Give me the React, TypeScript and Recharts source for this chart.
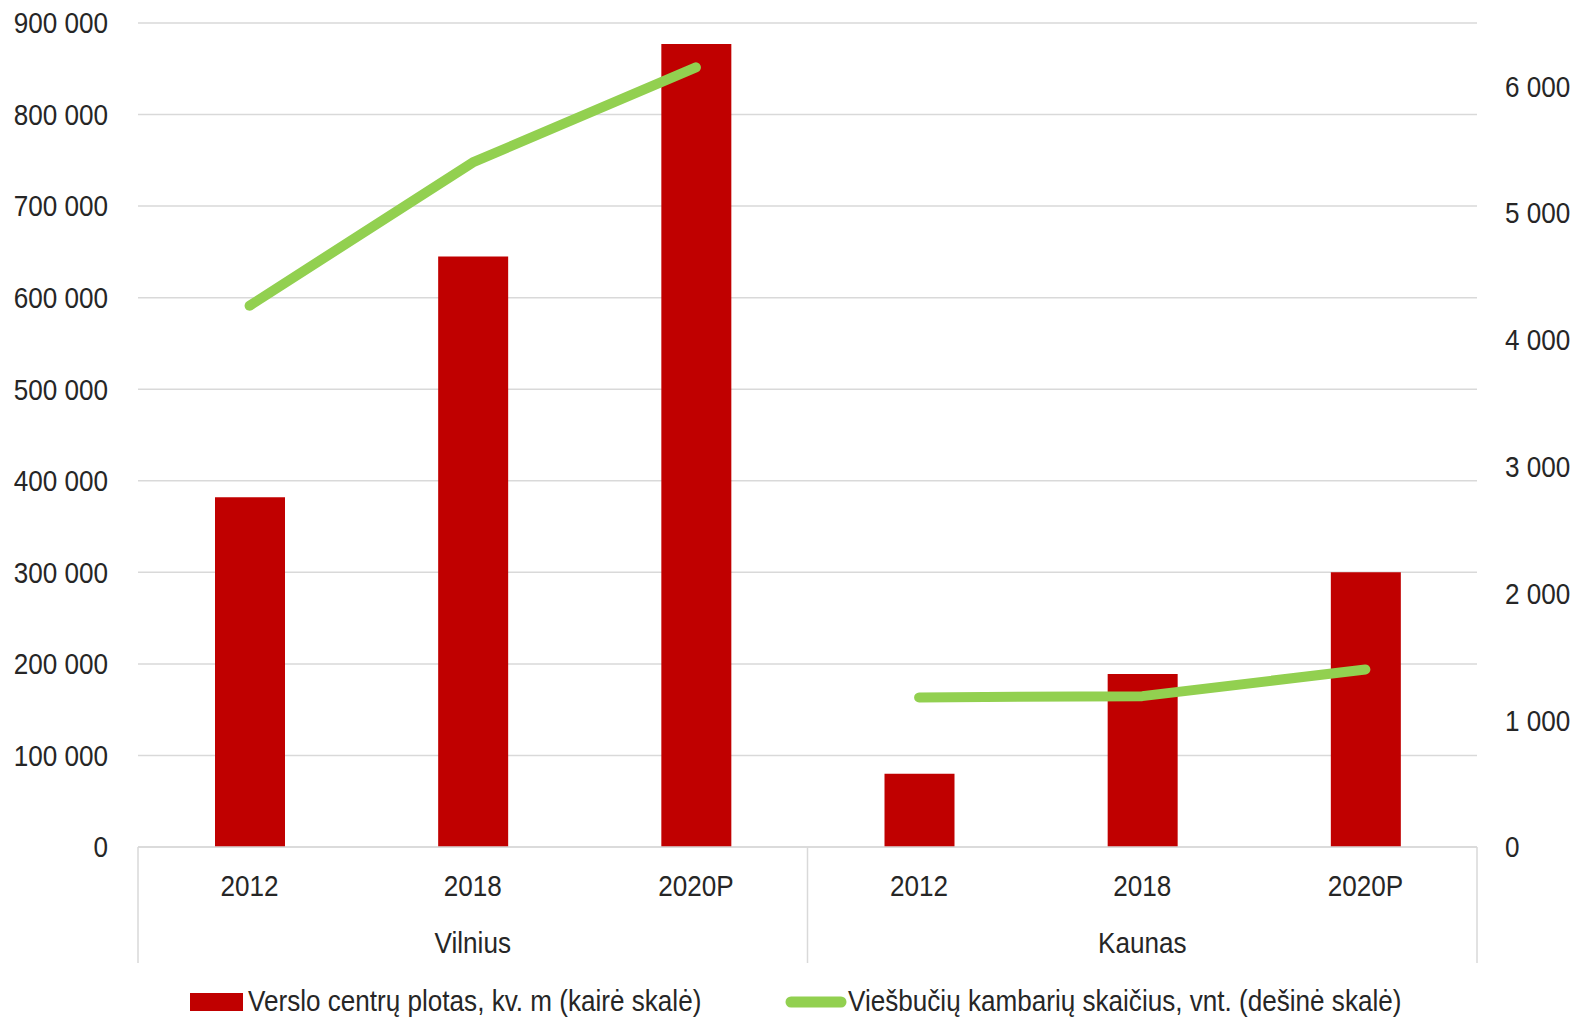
import React from "react";
import {
  ComposedChart,
  Bar,
  Line,
  XAxis,
  YAxis,
  CartesianGrid,
  Legend,
} from "recharts";

// categories (two-level axis: year under city)
const cities = ["Vilnius", "Vilnius", "Vilnius", "Kaunas", "Kaunas", "Kaunas"];
const years = ["2012", "2018", "2020P", "2012", "2018", "2020P"];

// business centre area, sq m (left scale)
const officeArea = [382000, 645000, 877000, 80000, 189000, 300000];
// hotel rooms, units (right scale) - split per city so the line breaks between them
const roomsVilnius = [4270, 5400, 6150, null, null, null];
const roomsKaunas = [null, null, null, 1180, 1190, 1400];

const leftTicks = [0, 100000, 200000, 300000, 400000, 500000, 600000, 700000, 800000, 900000];
const rightTicks = [0, 1000, 2000, 3000, 4000, 5000, 6000];

const barLabel = "Verslo centrų plotas, kv. m (kairė skalė)";
const lineLabel = "Viešbučių kambarių skaičius, vnt. (dešinė skalė)";

const data = years.map((y, i) => ({
  id: `${cities[i]} ${y}`,
  area: officeArea[i],
  roomsV: roomsVilnius[i],
  roomsK: roomsKaunas[i],
}));

const W = 1581;
const H = 1021;
const LEFT_W = 138;
const RIGHT_W = 104;
const PLOT_W = W - LEFT_W - RIGHT_W;
const HALF_BAND = PLOT_W / years.length / 2;

// no narrow font available: squeeze Liberation Sans horizontally instead
const FONT = '"Liberation Sans", Arial, sans-serif';
const FS = 29;
const SQUEEZE = 0.9;
const TEXT = "#262626";
const GRID = "#d9d9d9";
const RED = "#C00000";
const GREEN = "#92D050";

const fmt = (v: number) => String(v).replace(/\B(?=(\d{3})+(?!\d))/g, " ");

const NarrowText = ({ x, y, anchor = "middle", dy = "0.355em", children }: any) => (
  <text
    transform={`translate(${x},${y}) scale(${SQUEEZE},1)`}
    x={0}
    y={0}
    dy={dy}
    textAnchor={anchor}
    fill={TEXT}
    fontSize={FS}
    fontFamily={FONT}
  >
    {children}
  </text>
);

const CategoryTick = (props: any) => {
  const { x, y, index } = props;
  const showCity = index === 1 || index === 4;
  const sepLeft = index === 0 || index === 3;
  const sepRight = index === years.length - 1;
  return (
    <g>
      <NarrowText x={x} y={y + 39}>{years[index]}</NarrowText>
      {showCity && <NarrowText x={x} y={y + 96}>{cities[index]}</NarrowText>}
      {sepLeft && <line x1={x - HALF_BAND} x2={x - HALF_BAND} y1={y} y2={y + 116} stroke={GRID} strokeWidth={1.5} />}
      {sepRight && <line x1={x + HALF_BAND} x2={x + HALF_BAND} y1={y} y2={y + 116} stroke={GRID} strokeWidth={1.5} />}
    </g>
  );
};

const LeftTick = (props: any) => (
  <NarrowText x={props.x} y={props.y} anchor="end">{fmt(props.payload.value)}</NarrowText>
);

const RightTick = (props: any) => (
  <NarrowText x={props.x} y={props.y} anchor="start">{fmt(props.payload.value)}</NarrowText>
);

const LegendContent = () => (
  <svg width={W} height={46} style={{ display: "block" }}>
    <rect x={190} y={16} width={53} height={18} fill={RED} />
    <NarrowText x={248} y={24} anchor="start">{barLabel}</NarrowText>
    <line x1={791} x2={841} y1={25} y2={25} stroke={GREEN} strokeWidth={11} strokeLinecap="round" />
    <NarrowText x={848} y={24} anchor="start">{lineLabel}</NarrowText>
  </svg>
);

export default function App() {
  return (
    <div style={{ position: "absolute", left: 0, top: 0, width: W, height: H, background: "#fff" }}>
      <ComposedChart width={W} height={H} data={data} margin={{ top: 23, right: 0, bottom: 58, left: 0 }}>
        <CartesianGrid yAxisId="left" vertical={false} stroke={GRID} strokeWidth={1.5} />
        <XAxis
          dataKey="id"
          height={116}
          axisLine={{ stroke: GRID, strokeWidth: 1.5 }}
          tickLine={false}
          tickSize={0}
          tickMargin={0}
          interval={0}
          tick={<CategoryTick />}
        />
        <YAxis
          yAxisId="left"
          width={LEFT_W}
          domain={[0, 900000]}
          ticks={leftTicks}
          axisLine={false}
          tickLine={false}
          tickSize={0}
          tickMargin={30}
          tick={<LeftTick />}
        />
        <YAxis
          yAxisId="right"
          orientation="right"
          width={RIGHT_W}
          domain={[0, 6500]}
          ticks={rightTicks}
          axisLine={false}
          tickLine={false}
          tickSize={0}
          tickMargin={28}
          tick={<RightTick />}
        />
        <Bar yAxisId="left" dataKey="area" name={barLabel} fill={RED} barSize={70} isAnimationActive={false} />
        <Line
          yAxisId="right"
          dataKey="roomsV"
          name={lineLabel}
          stroke={GREEN}
          strokeWidth={10}
          strokeLinecap="round"
          strokeLinejoin="round"
          dot={false}
          activeDot={false}
          type="linear"
          connectNulls={false}
          isAnimationActive={false}
        />
        <Line
          yAxisId="right"
          dataKey="roomsK"
          name={lineLabel}
          stroke={GREEN}
          strokeWidth={10}
          strokeLinecap="round"
          strokeLinejoin="round"
          dot={false}
          activeDot={false}
          type="linear"
          connectNulls={false}
          legendType="none"
          isAnimationActive={false}
        />
        <Legend
          layout="horizontal"
          verticalAlign="middle"
          align="center"
          content={<LegendContent />}
          wrapperStyle={{ top: 977, left: 0, width: W, height: 46 }}
        />
      </ComposedChart>
    </div>
  );
}
